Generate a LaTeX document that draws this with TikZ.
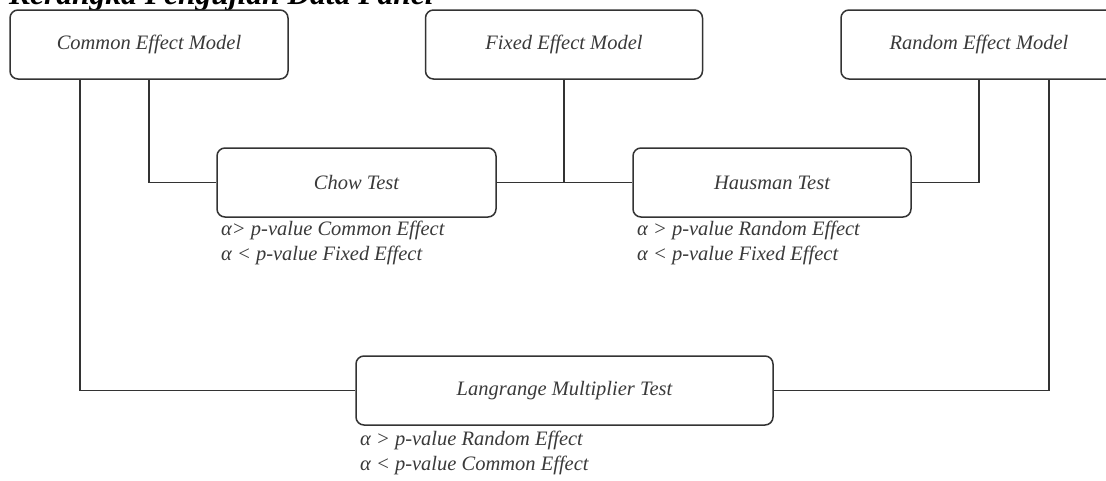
\documentclass[tikz,border=0pt]{standalone}
\usepackage{fontspec}
\setmainfont{Liberation Serif}
\definecolor{ln}{HTML}{333333}
\definecolor{tx}{HTML}{3A3A3A}
\begin{document}
\begin{tikzpicture}[x=1pt,y=-1pt,
  box/.style={draw=ln,line width=1.5pt,rounded corners=8pt,minimum height=69pt,inner sep=0pt,
    font=\fontsize{20.5}{24}\selectfont\itshape,text=tx},
  con/.style={draw=ln,line width=1.5pt},
  note/.style={anchor=base west,inner sep=0pt,font=\fontsize{20.5}{24}\selectfont\itshape,text=tx}]
\useasboundingbox (0,0) rectangle (1106,480);
\fill[white] (0,0) rectangle (1106,480);
\node[anchor=base west,inner sep=0pt,font=\fontsize{31.5}{36}\selectfont\bfseries\itshape] (title) at (9,4.5) {Kerangka Pengujian Data Panel};
\node[box,minimum width=278pt] (cem) at (149,44.5) {Common Effect Model};
\node[box,minimum width=277pt] (fem) at (564,44.5) {Fixed Effect Model};
\node[box,minimum width=276pt] (rem) at (979,44.5) {Random Effect Model};
\node[box,minimum width=279pt] (chow) at (356.5,182.5) {Chow Test};
\node[box,minimum width=278pt] (haus) at (772,182.5) {Hausman Test};
\node[box,minimum width=417pt] (lm) at (564.5,390.5) {Langrange Multiplier Test};
% connectors
\draw[con] (cem.south) |- (chow.west);
\draw[con] (chow.east) -- (haus.west);
\coordinate (mid) at (564,182.5);
\draw[con] (fem.south) -- (mid);
\draw[con] (rem.south) |- (haus.east);
\path (cem.south) ++(-69,0) coordinate (cemL);
\draw[con] (cemL) |- (lm.west);
\path (rem.south) ++(70,0) coordinate (remR);
\draw[con] (remR) |- (lm.east);
% notes
\node[note] (n1) at (221,235) {α> p-value Common Effect};
\node[note] (n2) at (221,260) {α < p-value Fixed Effect};
\node[note] (n3) at (637,235) {α > p-value Random Effect};
\node[note] (n4) at (637,260) {α < p-value Fixed Effect};
\node[note] (n5) at (360,445) {α > p-value Random Effect};
\node[note] (n6) at (360,470) {α < p-value Common Effect};
\end{tikzpicture}
\end{document}
